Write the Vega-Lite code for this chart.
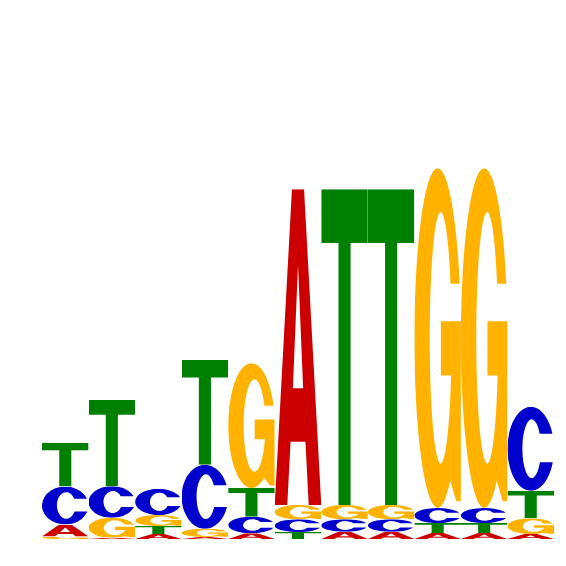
{
  "$schema": "https://vega.github.io/schema/vega-lite/v6.json",
  "description": "Sequence logo, 11 positions, letter heights in bits",
  "width": 512,
  "height": 500,
  "autosize": "none",
  "padding": {"left": 42, "top": 39, "right": 12, "bottom": 27},
  "background": "white",
  "config": {"view": {"stroke": null}},
  "data": {
    "values": [
      {"pos": 1, "letter": "G", "bits": 0.01},
      {"pos": 1, "letter": "A", "bits": 0.048},
      {"pos": 1, "letter": "C", "bits": 0.152},
      {"pos": 1, "letter": "T", "bits": 0.175},
      {"pos": 2, "letter": "A", "bits": 0.005},
      {"pos": 2, "letter": "G", "bits": 0.08},
      {"pos": 2, "letter": "C", "bits": 0.126},
      {"pos": 2, "letter": "T", "bits": 0.345},
      {"pos": 3, "letter": "A", "bits": 0.02},
      {"pos": 3, "letter": "T", "bits": 0.032},
      {"pos": 3, "letter": "G", "bits": 0.044},
      {"pos": 3, "letter": "C", "bits": 0.105},
      {"pos": 4, "letter": "A", "bits": 0.008},
      {"pos": 4, "letter": "G", "bits": 0.033},
      {"pos": 4, "letter": "C", "bits": 0.256},
      {"pos": 4, "letter": "T", "bits": 0.42},
      {"pos": 5, "letter": "A", "bits": 0.023},
      {"pos": 5, "letter": "C", "bits": 0.066},
      {"pos": 5, "letter": "T", "bits": 0.115},
      {"pos": 5, "letter": "G", "bits": 0.499},
      {"pos": 6, "letter": "T", "bits": 0.028},
      {"pos": 6, "letter": "C", "bits": 0.051},
      {"pos": 6, "letter": "G", "bits": 0.057},
      {"pos": 6, "letter": "A", "bits": 1.263},
      {"pos": 7, "letter": "A", "bits": 0.029},
      {"pos": 7, "letter": "C", "bits": 0.05},
      {"pos": 7, "letter": "G", "bits": 0.057},
      {"pos": 7, "letter": "T", "bits": 1.263},
      {"pos": 8, "letter": "A", "bits": 0.029},
      {"pos": 8, "letter": "C", "bits": 0.05},
      {"pos": 8, "letter": "G", "bits": 0.057},
      {"pos": 8, "letter": "T", "bits": 1.263},
      {"pos": 9, "letter": "A", "bits": 0.024},
      {"pos": 9, "letter": "T", "bits": 0.04},
      {"pos": 9, "letter": "C", "bits": 0.06},
      {"pos": 9, "letter": "G", "bits": 1.359},
      {"pos": 10, "letter": "A", "bits": 0.024},
      {"pos": 10, "letter": "T", "bits": 0.04},
      {"pos": 10, "letter": "C", "bits": 0.06},
      {"pos": 10, "letter": "G", "bits": 1.359},
      {"pos": 11, "letter": "A", "bits": 0.02},
      {"pos": 11, "letter": "G", "bits": 0.063},
      {"pos": 11, "letter": "T", "bits": 0.11},
      {"pos": 11, "letter": "C", "bits": 0.336}
    ]
  },
  "transform": [
    {
      "stack": "bits",
      "groupby": ["pos"],
      "sort": [{"field": "bits", "order": "ascending"}],
      "as": ["y0", "y1"]
    }
  ],
  "encoding": {
    "x": {
      "field": "pos",
      "type": "ordinal",
      "scale": {"paddingInner": 0, "paddingOuter": 0},
      "axis": null
    },
    "y": {
      "field": "y0",
      "type": "quantitative",
      "scale": {"domain": [0, 2], "nice": false},
      "axis": null
    },
    "y2": {"field": "y1"},
    "tooltip": [{"field": "pos"}, {"field": "letter"}, {"field": "bits"}]
  },
  "layer": [
    {
      "transform": [{"filter": "datum.letter === 'A'"}],
      "mark": {"type": "image", "aspect": false},
      "encoding": {
        "url": {"value": "data:image/svg+xml;charset=utf-8,%3Csvg xmlns='http://www.w3.org/2000/svg' width='100' height='100' viewBox='0 0 100 100' preserveAspectRatio='none'%3E%3Cpath fill='rgb(204,0,0)' fill-rule='evenodd' d='M0 100L37 0L63 0L100 100L73 100L66 80L34 80L27 100ZM39 63L61 63L50 24Z'/%3E%3C/svg%3E"}
      }
    },
    {
      "transform": [{"filter": "datum.letter === 'C'"}],
      "mark": {"type": "image", "aspect": false},
      "encoding": {
        "url": {"value": "data:image/svg+xml;charset=utf-8,%3Csvg xmlns='http://www.w3.org/2000/svg' width='100' height='100' viewBox='0 0 100 100' preserveAspectRatio='none'%3E%3Cpath fill='rgb(0,0,204)' d='M96.6 32A50 50 0 1 0 97.4 66L69.8 66A20 35 0 1 1 69.2 32Z'/%3E%3C/svg%3E"}
      }
    },
    {
      "transform": [{"filter": "datum.letter === 'G'"}],
      "mark": {"type": "image", "aspect": false},
      "encoding": {
        "url": {"value": "data:image/svg+xml;charset=utf-8,%3Csvg xmlns='http://www.w3.org/2000/svg' width='100' height='100' viewBox='0 0 100 100' preserveAspectRatio='none'%3E%3Cpath fill='rgb(255,179,0)' d='M97.4 34A50 50 0 1 0 77.1 92L90 98L100 98L100 45L57 45L57 61L78.9 61A23.5 37 0 1 1 77.7 34Z'/%3E%3C/svg%3E"}
      }
    },
    {
      "transform": [{"filter": "datum.letter === 'T'"}],
      "mark": {"type": "image", "aspect": false},
      "encoding": {
        "url": {"value": "data:image/svg+xml;charset=utf-8,%3Csvg xmlns='http://www.w3.org/2000/svg' width='100' height='100' viewBox='0 0 100 100' preserveAspectRatio='none'%3E%3Cpath fill='rgb(0,128,0)' d='M0 0H100V17H63V100H37V17H0Z'/%3E%3C/svg%3E"}
      }
    }
  ]
}
